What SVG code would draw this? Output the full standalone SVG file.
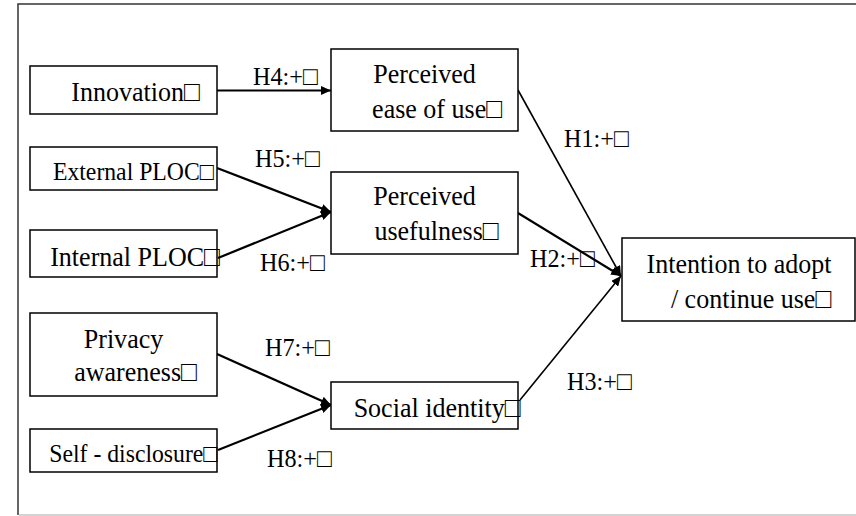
<svg xmlns="http://www.w3.org/2000/svg" width="856" height="516" viewBox="0 0 856 516">
<style>
.box{fill:#fff;stroke:#000;stroke-width:1.5}
.t{font-size:28px;text-anchor:middle;fill:#000}
.s{font-size:25.5px;text-anchor:middle;fill:#000}
.lbl{font-size:26px;fill:#000}
.c{stroke:#000;stroke-width:2.2;fill:none;marker-end:url(#ah)}
.c2{stroke:#000;stroke-width:1.6;fill:none;marker-end:url(#ah)}
</style>
<defs>
<marker id="ah" viewBox="0 0 10 9" refX="10" refY="4.5" markerWidth="10" markerHeight="9" markerUnits="userSpaceOnUse" orient="auto">
<path d="M0,0 L10,4.5 L0,9 Z" fill="#000"/>
</marker>
</defs>
<rect width="856" height="516" fill="#fff"/>
<path d="M18,515 V4 H856" fill="none" stroke="#333" stroke-width="1.5"/>
<path d="M18.75,515 H856" fill="none" stroke="#c4c4c4" stroke-width="1.5"/>

<g id="connectors">
<path class="c" d="M217,90.5 L331,90.5"/>
<path class="c" d="M217,168 L331,212"/>
<path class="c" d="M218,258 L331,212"/>
<path class="c" d="M217,354 L331,405"/>
<path class="c" d="M218,450 L331,405"/>
<path class="c2" d="M518,90 L621,276"/>
<path class="c" d="M518,213 L621,276"/>
<path class="c2" d="M520,400 L621,276"/>
</g>

<g id="innovation">
<rect class="box" x="30" y="66" width="187" height="48"/>
<text class="t" font-family="Liberation Serif" transform="translate(135.5 101) scale(0.93 1)">Innovation□</text>
</g>
<g id="external-ploc">
<rect class="box" x="30" y="147" width="187" height="43"/>
<text class="s" font-family="Liberation Serif" transform="translate(133.5 180) scale(0.93 1)">External PLOC□</text>
</g>
<g id="internal-ploc">
<rect class="box" x="30" y="230" width="187" height="47"/>
<text class="t" font-family="Liberation Serif" transform="translate(135 266) scale(0.93 1)">Internal PLOC□</text>
</g>
<g id="privacy-awareness">
<rect class="box" x="30" y="313" width="187" height="83"/>
<text class="t" font-family="Liberation Serif" transform="translate(123.5 348) scale(0.93 1)">Privacy</text>
<text class="t" font-family="Liberation Serif" transform="translate(135.5 381) scale(0.93 1)">awareness□</text>
</g>
<g id="self-disclosure">
<rect class="box" x="30" y="429" width="187" height="43"/>
<text class="s" font-family="Liberation Serif" transform="translate(133.5 462) scale(0.93 1)">Self - disclosure□</text>
</g>
<g id="perceived-ease-of-use">
<rect class="box" x="331" y="49" width="187" height="82"/>
<text class="t" font-family="Liberation Serif" transform="translate(424.5 83) scale(0.93 1)">Perceived</text>
<text class="t" font-family="Liberation Serif" transform="translate(437 118) scale(0.93 1)">ease of use□</text>
</g>
<g id="perceived-usefulness">
<rect class="box" x="331" y="172" width="187" height="82"/>
<text class="t" font-family="Liberation Serif" transform="translate(424.5 205) scale(0.93 1)">Perceived</text>
<text class="t" font-family="Liberation Serif" transform="translate(436.5 240) scale(0.93 1)">usefulness□</text>
</g>
<g id="social-identity">
<rect class="box" x="331" y="382" width="187" height="47"/>
<text class="t" font-family="Liberation Serif" transform="translate(437 417) scale(0.93 1)">Social identity□</text>
</g>
<g id="intention">
<rect class="box" x="622" y="238" width="233" height="83"/>
<text class="t" font-family="Liberation Serif" transform="translate(739 273) scale(0.93 1)">Intention to adopt</text>
<text class="t" font-family="Liberation Serif" transform="translate(751 308) scale(0.93 1)">/ continue use□</text>
</g>

<g id="labels">
<text class="lbl" font-family="Liberation Serif" transform="translate(253 85) scale(0.93 1)">H4:+□</text>
<text class="lbl" font-family="Liberation Serif" transform="translate(255 167) scale(0.93 1)">H5:+□</text>
<text class="lbl" font-family="Liberation Serif" transform="translate(260 271) scale(0.93 1)">H6:+□</text>
<text class="lbl" font-family="Liberation Serif" transform="translate(265 356) scale(0.93 1)">H7:+□</text>
<text class="lbl" font-family="Liberation Serif" transform="translate(267 467) scale(0.93 1)">H8:+□</text>
<text class="lbl" font-family="Liberation Serif" transform="translate(564 147) scale(0.93 1)">H1:+□</text>
<text class="lbl" font-family="Liberation Serif" transform="translate(530 267) scale(0.93 1)">H2:+□</text>
<text class="lbl" font-family="Liberation Serif" transform="translate(567 390) scale(0.93 1)">H3:+□</text>
</g>
</svg>
